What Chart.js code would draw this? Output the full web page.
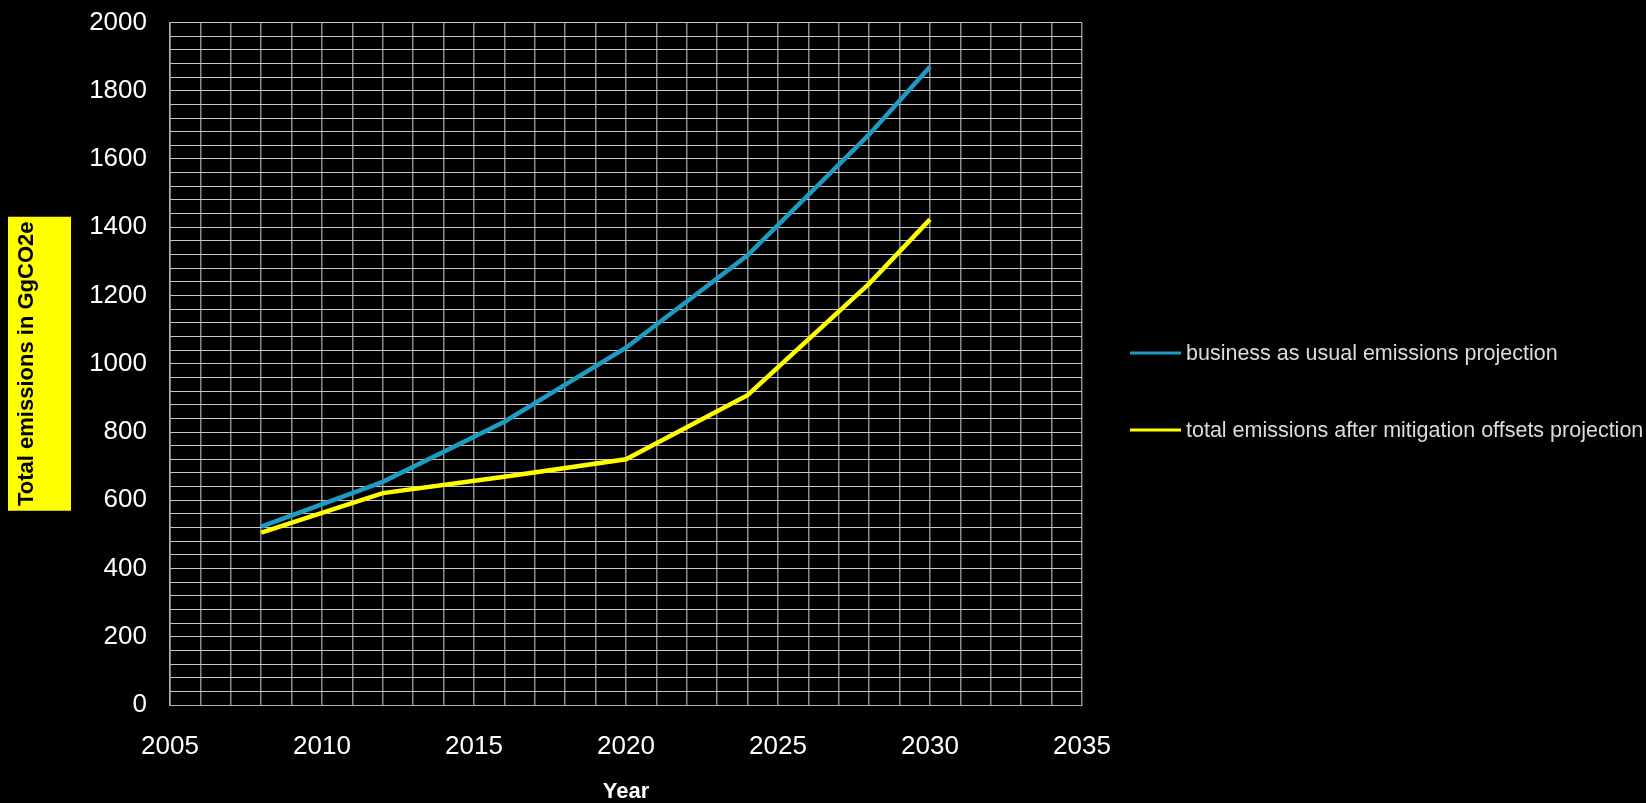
<!DOCTYPE html>
<html>
<head>
<meta charset="utf-8">
<title>Total emissions projection</title>
<script src="https://cdn.jsdelivr.net/npm/chart.js@4"></script>
<style>
  html, body { margin: 0; padding: 0; background: #000; }
  #wrap { position: relative; width: 1646px; height: 803px; }
  #chart { position: absolute; left: 0; top: 0; }
  #legend { position: absolute; left: 1130px; top: 0; font-family: "Liberation Sans", Arial, sans-serif; font-size: 21.5px; color: #dcdcdc; }
  .item { position: absolute; left: 0; display: flex; align-items: center; white-space: nowrap; transform: translateY(-50%); }
  .swatch { width: 51px; height: 3px; margin-right: 5px; }
</style>
</head>
<body>
<div id="wrap">
  <canvas id="chart" width="1646" height="803"></canvas>
  <div id="legend"></div>
</div>
<script>
// Projection years and emissions (GgCO2e)
const years = [2008, 2012, 2016, 2020, 2024, 2028, 2030];
const businessAsUsual = [523, 654, 830, 1047, 1318, 1672, 1870];
const afterMitigation = [505, 621, 669, 720, 908, 1235, 1423];

const seriesNames = [
  'business as usual emissions projection',
  'total emissions after mitigation offsets projection'
];
const seriesColors = ['#1e9bc3', '#ffff00'];

const xTitle = 'Year';
const yTitle = 'Total emissions in GgCO2e';

const toPoints = (vals) => years.map((yr, i) => ({ x: yr, y: vals[i] }));

const FONT = '"Liberation Sans", Arial, sans-serif';

// Black canvas background and the yellow panel behind the y-axis title
const backdrop = {
  id: 'backdrop',
  beforeDraw(chart) {
    const { ctx, chartArea } = chart;
    ctx.save();
    ctx.fillStyle = '#000';
    ctx.fillRect(0, 0, chart.width, chart.height);
    const mid = (chartArea.top + chartArea.bottom) / 2;
    ctx.fillStyle = '#ffff00';
    ctx.fillRect(8, mid - 147, 63, 294);
    ctx.restore();
  }
};

const chart = new Chart(document.getElementById('chart'), {
  type: 'line',
  data: {
    datasets: [
      {
        label: seriesNames[0],
        data: toPoints(businessAsUsual),
        borderColor: seriesColors[0],
        backgroundColor: seriesColors[0],
        borderWidth: 4.5,
        pointRadius: 0,
        tension: 0
      },
      {
        label: seriesNames[1],
        data: toPoints(afterMitigation),
        borderColor: seriesColors[1],
        backgroundColor: seriesColors[1],
        borderWidth: 4.5,
        pointRadius: 0,
        tension: 0
      }
    ]
  },
  options: {
    responsive: false,
    animation: false,
    layout: { padding: { left: 0, top: 22.5, right: 564, bottom: 0 } },
    plugins: {
      legend: { display: false },
      tooltip: { enabled: false }
    },
    scales: {
      x: {
        type: 'linear',
        min: 2005,
        max: 2035,
        afterFit(scale) { scale.height = 98; },
        border: { display: true, color: '#b0b0b0', width: 1 },
        grid: { color: '#8a8a8a', lineWidth: 1.5, drawTicks: false, tickLength: 0 },
        ticks: {
          stepSize: 1,
          autoSkip: false,
          maxRotation: 0,
          padding: 26,
          color: '#ffffff',
          font: { family: FONT, size: 26 },
          callback: (v) => (v % 5 === 0 ? String(v) : '')
        },
        title: {
          display: true,
          text: xTitle,
          color: '#ffffff',
          font: { family: FONT, size: 22, weight: 'bold' },
          padding: { top: 0, bottom: -2 }
        }
      },
      y: {
        min: 0,
        max: 2000,
        afterFit(scale) {
          scale.width = 170;
          scale.paddingTop = 0;
          scale.paddingBottom = 0;
        },
        border: { display: true, color: '#b0b0b0', width: 1.5 },
        grid: { color: '#c8c8c8', lineWidth: 1, drawTicks: false, tickLength: 0 },
        ticks: {
          stepSize: 40,
          autoSkip: false,
          padding: 23,
          color: '#ffffff',
          font: { family: FONT, size: 26 },
          callback: (v) => (v % 200 === 0 ? String(v) : '')
        },
        title: {
          display: true,
          text: yTitle,
          color: '#000000',
          font: { family: FONT, size: 22, weight: 'bold' },
          padding: { top: 14, bottom: 0 }
        }
      }
    }
  },
  plugins: [backdrop]
});

// Legend built from the chart's datasets
const legendEl = document.getElementById('legend');
const rowCenters = [353, 430];
chart.data.datasets.forEach((ds, i) => {
  const row = document.createElement('div');
  row.className = 'item';
  row.style.top = rowCenters[i] + 'px';
  const sw = document.createElement('span');
  sw.className = 'swatch';
  sw.style.background = ds.borderColor;
  const txt = document.createElement('span');
  txt.textContent = ds.label;
  row.appendChild(sw);
  row.appendChild(txt);
  legendEl.appendChild(row);
});
</script>
</body>
</html>
